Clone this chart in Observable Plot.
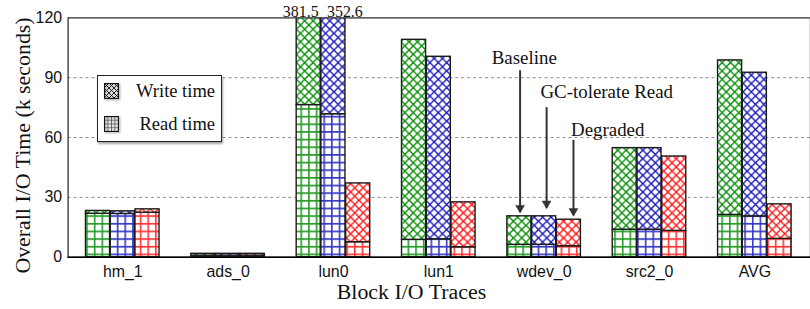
<!DOCTYPE html>
<html><head><meta charset="utf-8">
<script src="https://cdn.jsdelivr.net/npm/d3@7"></script>
<script src="https://cdn.jsdelivr.net/npm/@observablehq/plot@0.6"></script>
<style>
html,body{margin:0;padding:0;background:#fff;overflow:hidden;width:810px;height:309px;}
#wrap{position:relative;width:810px;height:309px;overflow:hidden;}
#legend{position:absolute;left:97px;top:75px;width:123px;height:65px;border:1.3px solid #222;background:#fff;box-shadow:1px 2px 2px rgba(0,0,0,0.35);font-family:"Liberation Serif","Times New Roman",serif;font-size:18.5px;color:#111;}
#legend .row{position:absolute;left:0;right:0;height:20px;}
#legend svg{position:absolute;left:6px;top:1px;filter:drop-shadow(1px 1px 1px rgba(0,0,0,0.45));}
#legend span{position:absolute;right:6px;top:-2px;line-height:22px;white-space:nowrap;}
</style>
</head><body><div id="wrap"></div>
<script>
// ---- data ----
const traces = ["hm_1", "ads_0", "lun0", "lun1", "wdev_0", "src2_0", "AVG"];
const systems = ["Baseline", "GC-tolerate Read", "Degraded"];
const readBaseline  = [21.8, 0.8, 76.3, 8.7, 6.2, 13.8, 21.2];
const totalBaseline = [23.2, 1.7, 381.5, 109.0, 20.5, 54.7, 98.7];
const readGC        = [21.7, 0.8, 71.7, 9.0, 6.2, 13.8, 20.5];
const totalGC       = [23.0, 1.7, 352.6, 100.5, 20.5, 54.7, 92.5];
const readDegraded  = [22.3, 0.8, 7.5, 5.0, 5.5, 13.2, 9.2];
const totalDegraded = [24.0, 1.7, 37.0, 27.5, 18.8, 50.5, 26.5];
const yTicks = [0, 30, 60, 90, 120];
const gridValues = [30, 60, 90];
const yTitle = "Overall I/O Time (k seconds)";
const xTitle = "Block I/O Traces";
const legendLabels = ["Write time", "Read time"];
const annoTrace = "wdev_0";
const annoText  = ["Baseline", "GC-tolerate Read", "Degraded"];
const annoTextY = [99.8, 82.9, 63.9];
const arrowTopY = [93.5, 75.0, 58.6];
const arrowTipY = [22.4, 24.6, 20.8];
const yMax = 120;

// ---- layout / style ----
const W = 815, H = 309, ML = 68, MT = 17.5, MB = 50.7;
const xOpts = {type: "band", domain: traces, paddingInner: 0.3, paddingOuter: 0.15, align: 0.5};
const bw = Plot.scale({x: {...xOpts, range: [ML, W]}}).bandwidth;
const third = bw / 3;
const colors = ["#008a00", "#1414b8", "#ff1010"];
const keys = ["g", "b", "r"];
const insets = [[0, 2 * third], [third, third], [2 * third, 0]];
const reads = [readBaseline, readGC, readDegraded];
const totals = [totalBaseline, totalGC, totalDegraded];
const serif = "'Liberation Serif', 'Times New Roman', serif";

function defs() {
  const d = d3.create("svg:defs");
  colors.forEach((c, k) => {
    const s = 8.4;
    const pw = d.append("pattern").attr("id", "w-" + keys[k]).attr("patternUnits", "userSpaceOnUse")
      .attr("width", s).attr("height", s);
    pw.append("rect").attr("width", s).attr("height", s).attr("fill", "white");
    pw.append("path").attr("d", `M-1,-1L${s+1},${s+1}M${s+1},-1L-1,${s+1}`)
      .attr("stroke", c).attr("stroke-width", 1.35).attr("fill", "none");
    const g = 7.7;
    const pr = d.append("pattern").attr("id", "r-" + keys[k]).attr("patternUnits", "userSpaceOnUse")
      .attr("width", g).attr("height", g).attr("x", 2).attr("y", 1);
    pr.append("rect").attr("width", g).attr("height", g).attr("fill", "white");
    pr.append("path").attr("d", `M0.8,0V${g}M0,0.8H${g}`)
      .attr("stroke", c).attr("stroke-width", 1.6).attr("stroke-opacity", 0.85).attr("fill", "none");
  });
  return d.node();
}

const marks = [defs];
marks.push(Plot.ruleY(gridValues, {stroke: "#8a8a8a", strokeDasharray: "3,3", strokeWidth: 1}));

systems.forEach((sys, k) => {
  const rows = traces.map((t, i) => ({trace: t, sys, read: reads[k][i], total: totals[k][i]}));
  const [insetLeft, insetRight] = insets[k];
  marks.push(Plot.barY(rows, {x: "trace", y1: 0, y2: "read", fill: `url(#r-${keys[k]})`,
    stroke: "#1a1a1a", strokeWidth: 1.4, insetLeft, insetRight}));
  marks.push(Plot.barY(rows, {x: "trace", y1: "read", y2: "total", fill: `url(#w-${keys[k]})`,
    stroke: "#1a1a1a", strokeWidth: 1.4, insetLeft, insetRight, clip: true}));
  const over = rows.filter(d => d.total > yMax);
  marks.push(Plot.text(over, {x: "trace", y: () => yMax, text: d => d.total.toFixed(1),
    dx: k === 0 ? -third - 8 : 11.5, dy: -6.5, fontSize: 16, fontFamily: serif, fill: "#111"}));
});

marks.push(Plot.frame({stroke: "#333", strokeWidth: 1.3}));
marks.push(Plot.ruleY([0], {stroke: "#000", strokeWidth: 1.6}));

// annotations (arrows + labels)
const arrowDx = [-24.2, 2.5, 29.5];
const textDx = [-20, 63, 64];
const anno = annoText.map((t, k) => ({trace: annoTrace, text: t, ty: annoTextY[k], top: arrowTopY[k], tip: arrowTipY[k], k}));
anno.forEach((a, k) => {
  marks.push(Plot.ruleX([a], {x: "trace", y1: "top", y2: "tip", dx: arrowDx[k], stroke: "#333", strokeWidth: 2}));
  marks.push(Plot.dot([a], {x: "trace", y: "tip", dx: arrowDx[k], dy: -4.6, symbol: "triangle", rotate: 180,
    r: 3.3, fill: "#333", stroke: "#333", strokeWidth: 0.5}));
  marks.push(Plot.text([a], {x: "trace", y: "ty", text: "text", dx: textDx[k], fontSize: 19, fontFamily: serif, fill: "#111"}));
});

// axis titles
marks.push(Plot.text([yTitle], {frameAnchor: "left", text: d => d, rotate: -90, dx: -45, dy: 8,
  textAnchor: "middle", lineAnchor: "middle", fontSize: 22, fontFamily: serif, fill: "#111"}));
marks.push(Plot.text([xTitle], {frameAnchor: "bottom", text: d => d, dx: -28, dy: 35,
  textAnchor: "middle", lineAnchor: "middle", fontSize: 22, fontFamily: serif, fill: "#111"}));

const chart = Plot.plot({
  width: W, height: H, marginLeft: ML, marginRight: 0, marginTop: MT, marginBottom: MB,
  x: {...xOpts, label: null, tickSize: 0, tickPadding: 9},
  y: {domain: [0, yMax], ticks: yTicks, label: null, tickSize: 0, tickPadding: 6},
  style: {fontFamily: "'Liberation Sans', Arial, sans-serif", fontSize: "16px", background: "white", color: "#111"},
  marks
});
const wrap = document.getElementById("wrap");
wrap.appendChild(chart);

// legend
const leg = document.createElement("div");
leg.id = "legend";
const sw = [
  `<svg width="15" height="16"><defs><pattern id="lw" patternUnits="userSpaceOnUse" width="5" height="5"><path d="M-1,-1L6,6M6,-1L-1,6" stroke="#111" stroke-width="0.9"/></pattern></defs><rect x="0.5" y="0.5" width="14" height="15" fill="url(#lw)" stroke="#111" stroke-width="1.2"/></svg>`,
  `<svg width="15" height="16"><defs><pattern id="lr" patternUnits="userSpaceOnUse" width="3.5" height="3.75"><path d="M0,0V4M0,0H4" stroke="#111" stroke-width="1"/></pattern></defs><rect x="0.5" y="0.5" width="14" height="15" fill="url(#lr)" stroke="#111" stroke-width="1.2"/></svg>`
];
const tops = [6, 39];
legendLabels.forEach((lab, i) => {
  const row = document.createElement("div");
  row.className = "row";
  row.style.top = tops[i] + "px";
  row.innerHTML = sw[i] + `<span>${lab}</span>`;
  leg.appendChild(row);
});
wrap.appendChild(leg);
</script>
</body></html>
